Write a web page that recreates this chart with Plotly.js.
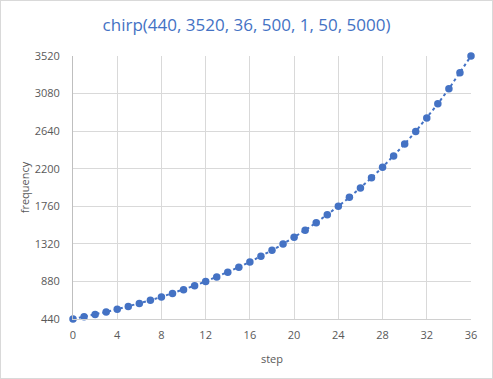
<!DOCTYPE html>
<html><head><meta charset="utf-8">
<script src="https://cdn.plot.ly/plotly-3.0.1.min.js"></script>
<style>html,body{margin:0;padding:0;background:#fff;}#c{width:491px;height:377px;border:1px solid #d9d9d9;}</style>
</head><body><div id="c"></div>
<script>
var steps = [0,1,2,3,4,5,6,7,8,9,10,11,12,13,14,15,16,17,18,19,20,21,22,23,24,25,26,27,28,29,30,31,32,33,34,35,36];
var frequency = [440,466.16,493.88,523.25,554.37,587.33,622.25,659.26,698.46,739.99,783.99,830.61,880,932.33,987.77,1046.5,1108.73,1174.66,1244.51,1318.51,1396.91,1479.98,1567.98,1661.22,1760,1864.66,1975.53,2093,2217.46,2349.32,2489.02,2637.02,2793.83,2959.96,3135.96,3322.44,3520];
var xTicks = [0,4,8,12,16,20,24,28,32,36];
var yTicks = [440,880,1320,1760,2200,2640,3080,3520];
var titleText = 'chirp(440, 3520, 36, 500, 1, 50, 5000)';
var blue = '#4472c4';
Plotly.newPlot('c', [{
  x: steps, y: frequency, type: 'scatter', mode: 'lines+markers',
  line: {color: blue, width: 2, dash: 'dot'},
  marker: {color: blue, size: 7.5},
  cliponaxis: false, hoverinfo: 'none'
}], {
  width: 491, height: 377,
  margin: {l: 72, r: 21, t: 55, b: 59, pad: 0},
  paper_bgcolor: '#fff', plot_bgcolor: '#fff',
  showlegend: false,
  font: {family: 'Open Sans, sans-serif', color: '#595959', size: 11},
  title: {text: titleText, font: {size: 17, color: blue, family: 'Open Sans, sans-serif'}, x: 0.5, xanchor: 'center', y: 0.935, yanchor: 'middle'},
  xaxis: {range: [0, 36], tickvals: xTicks, ticktext: xTicks.map(String), showgrid: true, gridcolor: '#d9d9d9', gridwidth: 1,
    zeroline: false, showline: true, linecolor: '#d0d0d0', linewidth: 1, ticks: '', ticklabelstandoff: 6, tickfont: {size: 11, color: '#595959'},
    title: {text: 'step', font: {size: 11, color: '#595959'}, standoff: 14}},
  yaxis: {range: [440, 3520], tickvals: yTicks, ticktext: yTicks.map(String), showgrid: true, gridcolor: '#d9d9d9', gridwidth: 1,
    zeroline: false, showline: true, linecolor: '#bfbfbf', linewidth: 1, ticks: '', ticklabelstandoff: 10, tickfont: {size: 11, color: '#595959'},
    title: {text: 'frequency', font: {size: 11, color: '#595959'}, standoff: 2}}
}, {displayModeBar: false, staticPlot: true});
</script></body></html>
